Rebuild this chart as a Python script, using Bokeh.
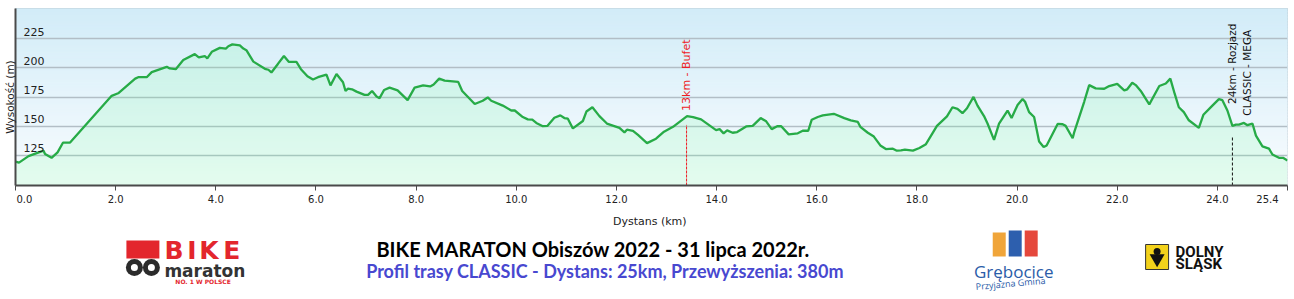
import numpy as np
from bokeh.plotting import figure
from bokeh.layouts import column
from bokeh.models import Range1d, FixedTicker, PrintfTickFormatter
from bokeh.core.properties import value
from bokeh.embed import file_html
from bokeh.resources import INLINE

# ---------------- data ----------------
distance_km = [0.00, 0.07, 0.26, 0.56, 0.59, 0.72, 0.84, 0.95, 1.09, 1.92, 2.05, 2.39, 2.45, 2.62, 2.72,
               3.02, 3.08, 3.20, 3.35, 3.58, 3.66, 3.78, 3.83, 3.92, 4.08, 4.20, 4.25, 4.33, 4.48, 4.55,
               4.61, 4.75, 4.98, 5.05, 5.11, 5.24, 5.36, 5.46, 5.61, 5.70, 5.83, 5.94, 6.04, 6.21, 6.29,
               6.41, 6.54, 6.59, 6.64, 6.72, 6.81, 6.97, 7.04, 7.12, 7.21, 7.27, 7.36, 7.47, 7.63, 7.83,
               7.97, 8.14, 8.28, 8.35, 8.46, 8.57, 8.84, 8.92, 9.17, 9.33, 9.43, 9.50, 9.73, 9.90, 9.97,
               10.13, 10.23, 10.32, 10.40, 10.53, 10.62, 10.76, 10.88, 10.96, 11.03, 11.13, 11.33, 11.40,
               11.52, 11.66, 11.81, 12.06, 12.16, 12.21, 12.33, 12.43, 12.61, 12.79, 12.95, 13.13, 13.41,
               13.53, 13.69, 13.99, 14.06, 14.14, 14.21, 14.32, 14.41, 14.59, 14.72, 14.88, 14.99, 15.10,
               15.21, 15.29, 15.44, 15.62, 15.72, 15.83, 15.90, 16.02, 16.12, 16.34, 16.55, 16.68, 16.82,
               16.87, 17.02, 17.14, 17.27, 17.38, 17.52, 17.60, 17.68, 17.76, 17.92, 18.05, 18.18, 18.40,
               18.60, 18.71, 18.81, 18.91, 19.00, 19.13, 19.21, 19.34, 19.41, 19.54, 19.64, 19.81, 19.89,
               20.01, 20.11, 20.16, 20.24, 20.34, 20.44, 20.53, 20.59, 20.81, 20.91, 20.97, 21.11, 21.14,
               21.34, 21.44, 21.57, 21.74, 21.84, 22.00, 22.14, 22.20, 22.30, 22.37, 22.47, 22.64, 22.84,
               22.97, 23.06, 23.15, 23.23, 23.33, 23.43, 23.63, 23.72, 23.90, 24.03, 24.10, 24.20, 24.30,
               24.37, 24.43, 24.53, 24.60, 24.70, 24.77, 24.90, 25.03, 25.10, 25.23, 25.31, 25.40]

elevation_m = [119.5, 118.6, 124.2, 128.9, 126.1, 122.8, 127.5, 135.9, 135.9, 176.0, 178.2, 190.8, 192.0,
               192.0, 196.4, 200.9, 199.5, 198.9, 206.8, 211.8, 209.0, 210.2, 208.2, 213.8, 217.2, 216.6,
               218.6, 220.2, 219.4, 216.6, 215.2, 205.4, 199.2, 198.4, 196.1, 203.4, 210.2, 205.1, 205.1,
               198.9, 192.8, 190.0, 192.0, 194.2, 185.0, 194.7, 187.7, 180.2, 182.1, 181.6, 179.6, 176.8,
               176.8, 180.2, 175.4, 174.0, 181.0, 183.0, 180.7, 172.3, 183.0, 185.0, 184.1, 185.8, 190.8,
               189.1, 188.0, 180.2, 169.0, 171.8, 174.6, 171.8, 167.6, 163.4, 163.4, 157.8, 155.8, 155.5,
               152.7, 149.9, 150.2, 157.2, 159.2, 156.9, 156.4, 148.0, 154.4, 162.5, 166.2, 158.6, 152.2,
               148.5, 144.6, 146.9, 146.0, 142.4, 135.4, 139.2, 145.2, 149.4, 158.6, 157.8, 155.8, 146.6,
               147.4, 143.8, 146.3, 144.3, 144.9, 149.7, 150.2, 156.9, 154.1, 147.4, 149.9, 149.9, 142.9,
               143.8, 146.0, 146.0, 155.5, 157.8, 159.2, 160.6, 156.9, 155.0, 153.6, 149.4, 144.3, 141.0,
               133.4, 130.3, 130.6, 128.9, 129.2, 129.8, 128.9, 131.2, 134.5, 150.2, 158.3, 166.2, 164.8,
               161.1, 165.3, 175.1, 167.6, 158.6, 152.2, 138.2, 152.2, 163.4, 156.9, 168.1, 173.2, 170.9,
               162.0, 157.8, 136.8, 132.0, 133.4, 151.9, 151.6, 150.2, 139.6, 144.6, 170.9, 185.2, 182.4,
               182.1, 184.4, 186.3, 180.7, 181.6, 187.2, 185.2, 180.2, 168.7, 184.4, 186.6, 190.8, 177.4,
               166.2, 162.0, 155.0, 148.5, 159.7, 167.6, 173.2, 172.3, 163.4, 150.2, 151.3, 151.3, 152.7,
               150.8, 152.2, 141.8, 132.6, 130.6, 125.6, 122.8, 122.8, 120.5]

x_ticks = [0.0, 2.0, 4.0, 6.0, 8.0, 10.0, 12.0, 14.0, 16.0, 18.0, 20.0, 22.0, 24.0, 25.4]
y_ticks = [125, 150, 175, 200, 225]

marker_km = [13.4, 24.3]
marker_top = [151, 141]
marker_labels = ["13km - Bufet", "24km - Rozjazd"]
marker_label_base = [163, 169]
marker_colors = ["#ee1c25", "#111111"]
marker_dash = ["3 1", "3 2"]
second_label = "CLASSIC - MEGA"
second_label_base = 159

TITLE = "BIKE MARATON Obiszów 2022 - 31 lipca 2022r."
SUBTITLE = "Profil trasy CLASSIC - Dystans: 25km, Przewyższenia: 380m"

X_MIN, X_MAX = 0.0, 25.4
Y_MIN, Y_MAX = 99.0, 251.0

# ---------------- chart ----------------
p = figure(width=1294, height=230, x_range=Range1d(X_MIN, X_MAX), y_range=Range1d(Y_MIN, Y_MAX),
           output_backend="svg", toolbar_location=None,
           min_border_left=14, min_border_right=7, min_border_top=8, min_border_bottom=42)
p.border_fill_color = "white"
p.outline_line_color = "#b8c4cc"
p.outline_line_width = 1

# background gradient (light blue at top to almost white at bottom)
n_bands = 60
edges = np.linspace(Y_MIN, Y_MAX, n_bands + 1)
top_rgb = np.array([210, 236, 248])
bot_rgb = np.array([249, 252, 254])
cols = []
for i in range(n_bands):
    t = (i + 0.5) / n_bands
    c = bot_rgb + (top_rgb - bot_rgb) * t
    cols.append("#%02x%02x%02x" % tuple(int(round(v)) for v in c))
p.quad(left=X_MIN, right=X_MAX, bottom=edges[:-1], top=edges[1:], fill_color=cols,
       line_color=cols, line_width=1, level="image")

# area under profile
p.varea(x=distance_km, y1=Y_MIN, y2=elevation_m, fill_color="#66ff90", fill_alpha=0.14)
p.line(distance_km, elevation_m, line_color="#27ab47", line_width=2.3)

# markers
for km, top, col, dash in zip(marker_km, marker_top, marker_colors, marker_dash):
    p.segment(x0=[km], y0=[Y_MIN], x1=[km], y1=[top], line_color=col, line_dash=dash, line_width=1)
p.text(x=marker_km[:1], y=marker_label_base[:1], text=marker_labels[:1], angle=np.pi / 2,
       text_color=marker_colors[0], text_font=value("DejaVu Sans"), text_font_size="11px",
       text_align="left", text_baseline="middle")
p.text(x=marker_km[1:], y=marker_label_base[1:], text=marker_labels[1:], angle=np.pi / 2,
       text_color=marker_colors[1], text_font=value("DejaVu Sans"), text_font_size="10.5px",
       text_align="left", text_baseline="middle")
p.text(x=[marker_km[1]], y=[second_label_base], text=[second_label], angle=np.pi / 2, x_offset=15,
       text_color="#111111", text_font=value("DejaVu Sans"), text_font_size="10.5px",
       text_align="left", text_baseline="middle")

# inside y tick labels
p.text(x=[X_MIN] * len(y_ticks), y=y_ticks, text=[str(v) for v in y_ticks], x_offset=8, y_offset=-7,
       text_color="#222222", text_font=value("DejaVu Sans"), text_font_size="11px",
       text_align="left", text_baseline="middle")

# grid
p.xgrid.visible = False
p.ygrid.ticker = FixedTicker(ticks=y_ticks)
p.ygrid.grid_line_color = "#b2bec6"
p.ygrid.grid_line_width = 1.5

# x axis
NB = "\u00a0"
p.xaxis.ticker = FixedTicker(ticks=x_ticks)
p.xaxis.formatter = PrintfTickFormatter(format="%.1f")
p.xaxis.major_label_overrides = {x_ticks[0]: NB * 5 + "%.1f" % x_ticks[0],
                                 x_ticks[-1]: "%.1f" % x_ticks[-1] + NB * 5}
p.xaxis.axis_label = "Dystans  (km)"
p.xaxis.axis_label_text_font = "DejaVu Sans"
p.xaxis.axis_label_text_font_size = "11px"
p.xaxis.axis_label_text_font_style = "normal"
p.xaxis.axis_label_text_color = "#222222"
p.xaxis.axis_label_standoff = 7
p.xaxis.major_label_text_font = "DejaVu Sans"
p.xaxis.major_label_text_font_size = "10px"
p.xaxis.major_label_text_color = "#222222"
p.xaxis.major_label_standoff = 3
p.xaxis.major_tick_in = 0
p.xaxis.major_tick_out = 5
p.xaxis.minor_tick_line_color = None
p.xaxis.axis_line_color = "#4a4a4a"
p.xaxis.axis_line_width = 2
p.xaxis.major_tick_line_color = "#4a4a4a"

# y axis
p.yaxis.ticker = FixedTicker(ticks=[])
p.yaxis.axis_label = "Wysokość (m)"
p.yaxis.axis_label_text_font = "DejaVu Sans"
p.yaxis.axis_label_text_font_size = "10.5px"
p.yaxis.axis_label_text_font_style = "normal"
p.yaxis.axis_label_text_color = "#222222"
p.yaxis.axis_label_standoff = 0
p.yaxis.major_label_standoff = 0
p.yaxis.major_tick_out = 0
p.yaxis.major_tick_in = 0
p.yaxis.minor_tick_line_color = None
p.yaxis.axis_line_color = "#4a4a4a"
p.yaxis.axis_line_width = 2

# ---------------- footer (titles and logos), data units = page pixels ----------------
f = figure(width=1294, height=69, x_range=Range1d(14, 1287), y_range=Range1d(299, 230),
           output_backend="svg", toolbar_location=None, x_axis_location=None, y_axis_location=None,
           min_border_left=14, min_border_right=7, min_border_top=0, min_border_bottom=0)
f.grid.visible = False
f.outline_line_color = None
f.background_fill_color = "white"
f.border_fill_color = "white"

f.text(x=[592], y=[248.5], text=[TITLE], text_font=value("Lato"), text_font_style="bold",
       text_font_size="20px", text_color="black", text_align="center", text_baseline="middle")
f.text(x=[604], y=[270.5], text=[SUBTITLE], text_font=value("Lato"), text_font_style="bold",
       text_font_size="18px", text_color="#4848d0", text_align="center", text_baseline="middle")

# BIKE maraton logo
f.quad(left=[125], right=[158], top=[240], bottom=[258], fill_color="#e3262d", line_color=None)
f.scatter(x=[133, 150], y=[267, 267], size=17, marker="circle", fill_color="#2b2b2b", line_color=None)
f.scatter(x=[133, 150], y=[267, 267], size=7, marker="circle", fill_color="white", line_color=None)
f.text(x=[163, 186, 198, 222], y=[250] * 4, text=["B", "I", "K", "E"], text_font=value("DejaVu Sans"),
       text_font_style="bold", text_font_size="25px", text_color="#e3262d", text_baseline="middle")
f.text(x=[163], y=[270], text=["maraton"], text_font=value("DejaVu Sans"), text_font_style="bold",
       text_font_size="17px", text_color="#333333", text_baseline="middle")
f.text(x=[174], y=[281], text=["NO. 1  W  POLSCE"], text_font=value("DejaVu Sans"),
       text_font_style="bold", text_font_size="6px", text_color="#e3262d", text_baseline="middle")

# Grębocice logo
f.quad(left=[992], right=[1005], top=[232], bottom=[256], fill_color="#f0a53a", line_color=None)
f.quad(left=[1008], right=[1021], top=[229], bottom=[256], fill_color="#2d5fae", line_color=None)
f.quad(left=[1024], right=[1037], top=[226], bottom=[256], fill_color="#e5483c", line_color=None)
f.text(x=[1013], y=[271], text=["Grębocice"], text_font=value("Open Sans"), text_font_size="17px",
       text_color="#2a5ca8", text_align="center", text_baseline="middle")
f.text(x=[975], y=[286], text=["Przyjazna Gmina"], text_font=value("Open Sans"),
       text_font_size="9px", text_color="#2a5ca8", angle=0.09, text_baseline="middle")

# Dolny Śląsk logo
f.quad(left=[1145], right=[1168], top=[244], bottom=[269], fill_color="#f3d21b", line_color="#333333",
       line_width=1)
f.scatter(x=[1156.5], y=[258], size=15, marker="inverted_triangle", fill_color="#111111", line_color=None)
f.scatter(x=[1156.5], y=[251], size=7, marker="circle", fill_color="#111111", line_color=None)
f.text(x=[1175, 1175], y=[251.5, 263.5], text=["DOLNY", "ŚLĄSK"], text_font=value("Roboto"),
       text_font_style="bold", text_font_size="15px", text_color="#111111", text_baseline="middle")

layout = column(p, f, spacing=0)
open("out.html", "w").write(file_html(layout, INLINE))
